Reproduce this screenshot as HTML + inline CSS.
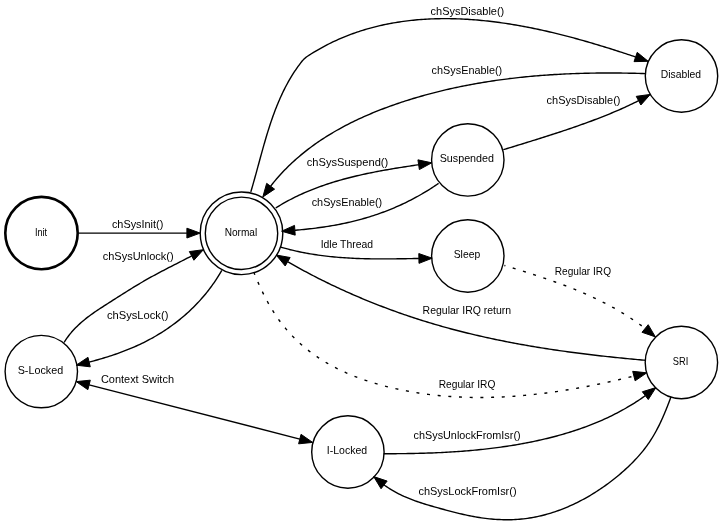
<!DOCTYPE html>
<html><head><meta charset="utf-8"><style>
html,body{margin:0;padding:0;background:#fff;width:723px;height:526px;overflow:hidden}
svg{display:block;will-change:transform}
text{font-family:"Liberation Sans",sans-serif;font-size:11px;fill:#000}
</style></head><body>
<svg width="723" height="526" viewBox="0 0 723 526">
<rect width="723" height="526" fill="#fff"/>
<circle cx="41.5" cy="233.1" r="36.2" fill="none" stroke="#000" stroke-width="2.6"/>
<circle cx="241.5" cy="233.3" r="36.2" fill="none" stroke="#000" stroke-width="1.4"/>
<circle cx="241.5" cy="233.3" r="41.3" fill="none" stroke="#000" stroke-width="1.4"/>
<circle cx="41.3" cy="371.6" r="36.2" fill="none" stroke="#000" stroke-width="1.4"/>
<circle cx="347.9" cy="452" r="36.2" fill="none" stroke="#000" stroke-width="1.4"/>
<circle cx="467.8" cy="159.9" r="36.2" fill="none" stroke="#000" stroke-width="1.4"/>
<circle cx="467.8" cy="256" r="36.2" fill="none" stroke="#000" stroke-width="1.4"/>
<circle cx="681.5" cy="76" r="36.2" fill="none" stroke="#000" stroke-width="1.4"/>
<circle cx="681.4" cy="362.5" r="36.2" fill="none" stroke="#000" stroke-width="1.4"/>
<path d="M78.50,233.10 L186.90,233.10" fill="none" stroke="#000" stroke-width="1.4" stroke-linejoin="round"/>
<polygon points="200.20,233.10 186.90,238.00 186.90,228.20" fill="#000" stroke="#000" stroke-width="1" stroke-linejoin="miter"/>
<path d="M64.10,342.50 L65.23,340.69 L66.39,338.93 L67.60,337.21 L68.84,335.54 L70.12,333.92 L71.43,332.33 L72.77,330.79 L74.15,329.28 L75.55,327.81 L76.99,326.38 L78.45,324.98 L79.94,323.61 L81.45,322.27 L82.98,320.96 L84.54,319.67 L86.12,318.41 L87.71,317.17 L89.32,315.96 L90.95,314.76 L92.60,313.58 L94.26,312.42 L95.93,311.27 L97.61,310.14 L99.30,309.01 L101.00,307.90 L102.70,306.79 L104.41,305.69 L106.12,304.59 L107.84,303.50 L109.56,302.40 L111.27,301.31 L112.99,300.21 L114.71,299.12 L116.42,298.02 L118.14,296.93 L119.86,295.83 L121.58,294.74 L123.30,293.65 L125.02,292.57 L126.74,291.49 L128.47,290.41 L130.20,289.33 L131.93,288.27 L133.66,287.20 L135.40,286.15 L137.14,285.10 L138.88,284.05 L140.63,283.02 L142.38,281.99 L144.14,280.97 L145.90,279.96 L147.66,278.96 L149.43,277.96 L151.20,276.97 L152.98,275.99 L154.76,275.02 L156.54,274.06 L158.33,273.10 L160.13,272.14 L161.92,271.20 L163.72,270.26 L165.52,269.33 L167.33,268.40 L169.13,267.47 L170.94,266.55 L172.75,265.62 L174.56,264.70 L176.37,263.78 L178.17,262.85 L179.98,261.93 L181.79,261.00 L183.60,260.07 L185.40,259.14 L187.21,258.21 L189.01,257.28 L190.82,256.34 L191.64,255.91" fill="none" stroke="#000" stroke-width="1.4" stroke-linejoin="round"/>
<polygon points="203.40,249.70 193.93,260.24 189.35,251.58" fill="#000" stroke="#000" stroke-width="1" stroke-linejoin="miter"/>
<path d="M221.80,270.40 L220.77,272.18 L219.72,273.95 L218.64,275.70 L217.55,277.43 L216.44,279.15 L215.30,280.86 L214.15,282.55 L212.98,284.22 L211.79,285.88 L210.58,287.53 L209.35,289.15 L208.11,290.76 L206.84,292.36 L205.56,293.94 L204.26,295.50 L202.94,297.05 L201.60,298.58 L200.25,300.10 L198.88,301.60 L197.50,303.08 L196.09,304.55 L194.67,306.00 L193.24,307.44 L191.78,308.85 L190.32,310.26 L188.83,311.64 L187.34,313.01 L185.82,314.36 L184.29,315.69 L182.75,317.01 L181.19,318.31 L179.62,319.60 L178.04,320.86 L176.44,322.11 L174.82,323.34 L173.20,324.56 L171.56,325.76 L169.90,326.94 L168.24,328.10 L166.56,329.24 L164.87,330.37 L163.17,331.48 L161.45,332.57 L159.72,333.65 L157.99,334.70 L156.24,335.74 L154.48,336.76 L152.70,337.77 L150.92,338.75 L149.13,339.72 L147.33,340.66 L145.51,341.59 L143.69,342.51 L141.86,343.40 L140.02,344.28 L138.17,345.14 L136.31,345.99 L134.44,346.81 L132.57,347.62 L130.69,348.42 L128.80,349.20 L126.91,349.97 L125.00,350.72 L123.09,351.45 L121.18,352.17 L119.26,352.87 L117.34,353.57 L115.40,354.24 L113.47,354.91 L111.53,355.55 L109.59,356.19 L107.64,356.81 L105.69,357.42 L103.73,358.02 L101.78,358.61 L99.82,359.18 L97.85,359.74 L95.89,360.29 L93.92,360.83 L91.95,361.36 L89.99,361.87 L89.13,362.08" fill="none" stroke="#000" stroke-width="1.4" stroke-linejoin="round"/>
<polygon points="76.20,365.20 87.98,357.32 90.28,366.84" fill="#000" stroke="#000" stroke-width="1" stroke-linejoin="miter"/>
<path d="M250.80,191.90 L251.38,189.97 L251.95,188.03 L252.51,186.08 L253.07,184.13 L253.63,182.18 L254.18,180.23 L254.73,178.27 L255.27,176.30 L255.82,174.34 L256.36,172.37 L256.90,170.39 L257.44,168.42 L257.97,166.44 L258.51,164.47 L259.05,162.49 L259.59,160.51 L260.13,158.53 L260.67,156.55 L261.21,154.56 L261.76,152.58 L262.31,150.60 L262.86,148.62 L263.42,146.64 L263.98,144.66 L264.55,142.69 L265.12,140.71 L265.70,138.74 L266.28,136.77 L266.87,134.80 L267.47,132.84 L268.08,130.87 L268.70,128.92 L269.32,126.96 L269.96,125.01 L270.60,123.07 L271.26,121.12 L271.92,119.19 L272.60,117.26 L273.29,115.33 L273.99,113.41 L274.70,111.50 L275.43,109.59 L276.17,107.69 L276.92,105.79 L277.69,103.91 L278.48,102.03 L279.28,100.15 L280.09,98.29 L280.93,96.44 L281.78,94.59 L282.64,92.75 L283.53,90.92 L284.43,89.10 L285.35,87.29 L286.30,85.49 L287.26,83.71 L288.24,81.93 L289.24,80.16 L290.27,78.40 L291.31,76.66 L292.38,74.92 L293.47,73.20 L294.59,71.49 L295.73,69.80 L296.89,68.11 L298.08,66.44 L299.29,64.79 L300.53,63.14 L301.79,61.51 L302.38,60.81 L302.99,60.13 L303.63,59.47 L304.28,58.84 L304.95,58.22 L305.65,57.63 L306.37,57.06 L307.11,56.51 L307.87,55.99 L309.61,54.86 L311.36,53.76 L313.12,52.67 L314.88,51.60 L316.65,50.55 L318.42,49.53 L320.20,48.52 L321.99,47.53 L323.78,46.56 L325.58,45.60 L327.38,44.67 L329.19,43.75 L331.01,42.86 L332.83,41.98 L334.66,41.12 L336.49,40.28 L338.33,39.45 L340.17,38.65 L342.01,37.86 L343.87,37.09 L345.72,36.34 L347.59,35.60 L349.45,34.88 L351.33,34.18 L353.20,33.50 L355.08,32.83 L356.97,32.18 L358.86,31.55 L360.75,30.93 L362.65,30.33 L364.55,29.75 L366.46,29.18 L368.37,28.63 L370.29,28.10 L372.21,27.58 L374.13,27.08 L376.06,26.59 L377.99,26.12 L379.92,25.67 L381.86,25.23 L383.80,24.80 L385.75,24.39 L387.69,24.00 L389.64,23.62 L391.60,23.25 L393.56,22.90 L395.52,22.57 L397.48,22.25 L399.45,21.94 L401.41,21.65 L403.39,21.37 L405.36,21.11 L407.34,20.86 L409.32,20.62 L411.30,20.40 L413.28,20.19 L415.27,20.00 L417.26,19.82 L419.25,19.65 L421.24,19.50 L423.23,19.35 L425.23,19.23 L427.23,19.11 L429.23,19.01 L431.23,18.92 L433.23,18.84 L435.24,18.77 L437.25,18.72 L439.25,18.68 L441.26,18.65 L443.27,18.63 L445.28,18.63 L447.30,18.63 L449.31,18.65 L451.32,18.68 L453.34,18.72 L455.35,18.77 L457.37,18.84 L459.39,18.91 L461.40,19.00 L463.42,19.09 L465.44,19.20 L467.46,19.32 L469.48,19.45 L471.50,19.59 L473.52,19.73 L475.54,19.89 L477.55,20.06 L479.57,20.24 L481.59,20.43 L483.61,20.63 L485.63,20.84 L487.65,21.05 L489.67,21.28 L491.69,21.52 L493.70,21.76 L495.72,22.02 L497.74,22.28 L499.75,22.56 L501.77,22.84 L503.78,23.13 L505.80,23.43 L507.81,23.73 L509.83,24.05 L511.84,24.37 L513.85,24.70 L515.86,25.05 L517.87,25.39 L519.88,25.75 L521.89,26.11 L523.90,26.48 L525.90,26.86 L527.91,27.25 L529.91,27.64 L531.91,28.04 L533.91,28.45 L535.91,28.87 L537.91,29.29 L539.91,29.72 L541.91,30.15 L543.90,30.59 L545.89,31.04 L547.89,31.50 L549.88,31.96 L551.86,32.43 L553.85,32.90 L555.84,33.38 L557.82,33.86 L559.80,34.35 L561.78,34.85 L563.76,35.35 L565.73,35.86 L567.71,36.37 L569.68,36.89 L571.65,37.41 L573.61,37.94 L575.58,38.47 L577.54,39.01 L579.50,39.55 L581.46,40.10 L583.42,40.65 L585.37,41.21 L587.32,41.77 L589.27,42.33 L591.22,42.90 L593.16,43.47 L595.10,44.05 L597.04,44.63 L598.97,45.21 L600.91,45.80 L602.84,46.39 L604.76,46.98 L606.69,47.58 L608.61,48.18 L610.53,48.78 L612.44,49.38 L614.35,49.99 L616.26,50.60 L618.17,51.22 L620.07,51.83 L621.97,52.45 L623.87,53.07 L625.76,53.70 L627.65,54.32 L629.54,54.95 L631.42,55.58 L633.30,56.21 L635.17,56.84 L635.62,56.99" fill="none" stroke="#000" stroke-width="1.4" stroke-linejoin="round"/>
<polygon points="648.20,61.30 634.03,61.63 637.20,52.36" fill="#000" stroke="#000" stroke-width="1" stroke-linejoin="miter"/>
<path d="M645.00,73.60 L643.00,73.54 L641.00,73.47 L638.99,73.42 L636.99,73.36 L634.98,73.31 L632.98,73.26 L630.97,73.22 L628.96,73.18 L626.95,73.14 L624.94,73.11 L622.94,73.08 L620.92,73.06 L618.91,73.03 L616.90,73.02 L614.89,73.00 L612.88,72.99 L610.86,72.99 L608.85,72.98 L606.83,72.98 L604.82,72.99 L602.80,73.00 L600.79,73.01 L598.77,73.03 L596.75,73.05 L594.73,73.08 L592.72,73.11 L590.70,73.15 L588.68,73.19 L586.66,73.23 L584.64,73.28 L582.63,73.33 L580.61,73.39 L578.59,73.45 L576.57,73.52 L574.55,73.59 L572.53,73.67 L570.51,73.75 L568.49,73.83 L566.47,73.92 L564.45,74.02 L562.43,74.12 L560.41,74.22 L558.39,74.33 L556.38,74.45 L554.36,74.57 L552.34,74.69 L550.32,74.82 L548.30,74.96 L546.29,75.10 L544.27,75.25 L542.25,75.40 L540.23,75.55 L538.22,75.72 L536.20,75.88 L534.19,76.06 L532.17,76.23 L530.16,76.42 L528.14,76.61 L526.13,76.80 L524.12,77.00 L522.11,77.21 L520.10,77.42 L518.09,77.64 L516.08,77.87 L514.07,78.09 L512.06,78.33 L510.05,78.57 L508.04,78.82 L506.04,79.07 L504.03,79.33 L502.03,79.60 L500.03,79.87 L498.02,80.15 L496.02,80.43 L494.02,80.72 L492.02,81.02 L490.02,81.33 L488.03,81.63 L486.03,81.95 L484.04,82.27 L482.04,82.60 L480.05,82.94 L478.06,83.28 L476.07,83.63 L474.08,83.99 L472.09,84.35 L470.11,84.72 L468.12,85.09 L466.14,85.48 L464.16,85.87 L462.17,86.26 L460.20,86.67 L458.22,87.08 L456.24,87.49 L454.27,87.92 L452.29,88.35 L450.32,88.79 L448.35,89.23 L446.38,89.69 L444.42,90.15 L442.45,90.62 L440.49,91.09 L438.53,91.57 L436.57,92.06 L434.61,92.56 L432.66,93.07 L430.70,93.58 L428.75,94.10 L426.80,94.63 L424.85,95.16 L422.90,95.71 L420.96,96.26 L419.02,96.82 L417.08,97.38 L415.14,97.96 L413.20,98.54 L411.27,99.13 L409.34,99.73 L407.41,100.34 L405.48,100.95 L403.56,101.57 L401.63,102.21 L399.71,102.84 L397.79,103.49 L395.88,104.15 L393.97,104.81 L392.06,105.49 L390.15,106.17 L388.25,106.86 L386.35,107.56 L384.45,108.27 L382.56,108.99 L380.67,109.71 L378.79,110.45 L376.91,111.20 L375.04,111.95 L373.17,112.72 L371.30,113.50 L369.44,114.28 L367.58,115.08 L365.73,115.89 L363.89,116.70 L362.05,117.53 L360.21,118.37 L358.38,119.21 L356.56,120.07 L354.75,120.94 L352.94,121.82 L351.13,122.72 L349.33,123.62 L347.54,124.53 L345.76,125.46 L343.98,126.39 L342.21,127.34 L340.45,128.30 L338.70,129.28 L336.95,130.26 L335.21,131.25 L333.48,132.26 L331.76,133.28 L330.04,134.32 L328.34,135.36 L326.64,136.42 L324.95,137.49 L323.27,138.57 L321.60,139.67 L319.94,140.78 L318.29,141.90 L316.64,143.03 L315.01,144.18 L313.39,145.34 L311.77,146.52 L310.17,147.71 L308.58,148.91 L307.00,150.13 L305.42,151.36 L303.86,152.60 L302.31,153.86 L300.77,155.13 L299.25,156.42 L297.73,157.72 L296.22,159.04 L294.73,160.37 L293.25,161.72 L291.78,163.08 L290.32,164.45 L288.88,165.84 L287.45,167.25 L286.03,168.67 L284.62,170.11 L283.22,171.56 L281.84,173.03 L280.48,174.51 L279.12,176.01 L277.78,177.53 L276.45,179.06 L275.14,180.61 L273.84,182.17 L272.55,183.75 L271.28,185.35 L270.63,186.25" fill="none" stroke="#000" stroke-width="1.4" stroke-linejoin="round"/>
<polygon points="262.80,197.00 266.67,183.36 274.59,189.13" fill="#000" stroke="#000" stroke-width="1" stroke-linejoin="miter"/>
<path d="M275.70,208.00 L277.45,206.90 L279.22,205.82 L280.99,204.76 L282.77,203.72 L284.56,202.70 L286.35,201.70 L288.16,200.71 L289.97,199.75 L291.79,198.81 L293.61,197.88 L295.45,196.97 L297.29,196.08 L299.13,195.20 L300.99,194.34 L302.85,193.50 L304.72,192.68 L306.59,191.87 L308.47,191.08 L310.36,190.30 L312.25,189.54 L314.15,188.80 L316.05,188.07 L317.96,187.35 L319.87,186.65 L321.80,185.97 L323.72,185.30 L325.65,184.64 L327.59,183.99 L329.53,183.36 L331.47,182.74 L333.42,182.14 L335.38,181.54 L337.34,180.96 L339.30,180.40 L341.26,179.84 L343.24,179.29 L345.21,178.76 L347.19,178.24 L349.17,177.72 L351.15,177.22 L353.14,176.73 L355.13,176.25 L357.13,175.78 L359.13,175.31 L361.13,174.86 L363.13,174.41 L365.13,173.98 L367.14,173.55 L369.15,173.13 L371.16,172.72 L373.17,172.32 L375.19,171.92 L377.21,171.53 L379.22,171.15 L381.24,170.77 L383.27,170.41 L385.29,170.04 L387.31,169.69 L389.33,169.33 L391.36,168.99 L393.38,168.65 L395.41,168.31 L397.44,167.98 L399.46,167.65 L401.49,167.33 L403.51,167.01 L405.54,166.69 L407.57,166.38 L409.59,166.07 L411.62,165.77 L413.64,165.46 L415.66,165.16 L417.69,164.86 L418.64,164.72" fill="none" stroke="#000" stroke-width="1.4" stroke-linejoin="round"/>
<polygon points="431.80,162.80 419.35,169.57 417.93,159.87" fill="#000" stroke="#000" stroke-width="1" stroke-linejoin="miter"/>
<path d="M438.60,183.30 L436.92,184.46 L435.23,185.61 L433.54,186.75 L431.83,187.86 L430.12,188.97 L428.40,190.05 L426.67,191.12 L424.93,192.18 L423.18,193.22 L421.43,194.24 L419.66,195.25 L417.89,196.25 L416.12,197.22 L414.33,198.19 L412.54,199.13 L410.74,200.07 L408.93,200.98 L407.12,201.89 L405.30,202.77 L403.47,203.65 L401.64,204.50 L399.80,205.34 L397.95,206.17 L396.10,206.98 L394.24,207.78 L392.37,208.56 L390.50,209.33 L388.62,210.08 L386.74,210.82 L384.85,211.54 L382.95,212.25 L381.05,212.94 L379.14,213.62 L377.23,214.29 L375.31,214.94 L373.39,215.57 L371.46,216.19 L369.53,216.80 L367.60,217.39 L365.65,217.96 L363.71,218.53 L361.76,219.07 L359.80,219.61 L357.84,220.13 L355.88,220.63 L353.91,221.12 L351.94,221.60 L349.97,222.07 L347.99,222.52 L346.00,222.95 L344.02,223.38 L342.03,223.79 L340.04,224.19 L338.05,224.58 L336.05,224.95 L334.05,225.32 L332.05,225.67 L330.04,226.01 L328.04,226.34 L326.03,226.65 L324.02,226.96 L322.00,227.25 L319.99,227.54 L317.97,227.81 L315.96,228.08 L313.94,228.33 L311.92,228.58 L309.90,228.81 L307.88,229.04 L305.86,229.25 L303.84,229.46 L301.81,229.66 L299.79,229.85 L297.77,230.03 L295.75,230.20 L294.87,230.27" fill="none" stroke="#000" stroke-width="1.4" stroke-linejoin="round"/>
<polygon points="281.60,231.20 294.52,225.38 295.21,235.15" fill="#000" stroke="#000" stroke-width="1" stroke-linejoin="miter"/>
<path d="M503.30,149.70 L505.25,149.10 L507.20,148.50 L509.15,147.91 L511.10,147.31 L513.05,146.71 L515.00,146.11 L516.95,145.51 L518.90,144.91 L520.85,144.31 L522.81,143.71 L524.76,143.11 L526.71,142.51 L528.67,141.91 L530.62,141.30 L532.57,140.70 L534.53,140.09 L536.48,139.48 L538.43,138.87 L540.38,138.26 L542.34,137.64 L544.29,137.03 L546.24,136.41 L548.19,135.79 L550.14,135.16 L552.09,134.53 L554.03,133.90 L555.98,133.27 L557.93,132.64 L559.87,132.00 L561.82,131.35 L563.76,130.71 L565.70,130.06 L567.64,129.40 L569.58,128.75 L571.51,128.09 L573.45,127.42 L575.38,126.75 L577.31,126.07 L579.24,125.40 L581.17,124.71 L583.10,124.02 L585.02,123.33 L586.94,122.63 L588.86,121.93 L590.78,121.22 L592.69,120.50 L594.61,119.78 L596.52,119.05 L598.43,118.32 L600.33,117.58 L602.23,116.84 L604.13,116.09 L606.03,115.33 L607.92,114.56 L609.81,113.79 L611.70,113.01 L613.58,112.22 L615.46,111.43 L617.34,110.62 L619.21,109.81 L621.08,108.99 L622.94,108.16 L624.80,107.32 L626.66,106.46 L628.51,105.60 L630.35,104.73 L632.19,103.85 L634.03,102.96 L635.86,102.06 L637.68,101.14 L638.57,100.67" fill="none" stroke="#000" stroke-width="1.4" stroke-linejoin="round"/>
<polygon points="650.30,94.40 640.88,104.99 636.26,96.35" fill="#000" stroke="#000" stroke-width="1" stroke-linejoin="miter"/>
<path d="M280.40,247.00 L282.37,247.57 L284.34,248.13 L286.32,248.67 L288.30,249.19 L290.28,249.70 L292.26,250.18 L294.25,250.65 L296.23,251.11 L298.22,251.55 L300.22,251.97 L302.21,252.37 L304.21,252.77 L306.21,253.14 L308.21,253.50 L310.22,253.85 L312.22,254.18 L314.23,254.50 L316.24,254.81 L318.25,255.10 L320.27,255.38 L322.28,255.64 L324.30,255.89 L326.32,256.13 L328.34,256.36 L330.36,256.58 L332.39,256.78 L334.41,256.98 L336.44,257.16 L338.47,257.33 L340.49,257.49 L342.52,257.64 L344.56,257.78 L346.59,257.91 L348.62,258.04 L350.66,258.15 L352.69,258.25 L354.73,258.35 L356.77,258.43 L358.80,258.51 L360.84,258.58 L362.88,258.65 L364.92,258.70 L366.96,258.75 L369.00,258.79 L371.04,258.83 L373.08,258.86 L375.13,258.88 L377.17,258.90 L379.21,258.91 L381.25,258.92 L383.30,258.92 L385.34,258.92 L387.38,258.91 L389.42,258.90 L391.47,258.88 L393.51,258.87 L395.55,258.84 L397.59,258.82 L399.63,258.79 L401.67,258.76 L403.72,258.73 L405.75,258.70 L407.79,258.66 L409.83,258.62 L411.87,258.59 L413.91,258.55 L415.94,258.51 L417.98,258.47 L418.90,258.45" fill="none" stroke="#000" stroke-width="1.4" stroke-linejoin="round"/>
<polygon points="432.20,258.20 418.99,263.35 418.81,253.55" fill="#000" stroke="#000" stroke-width="1" stroke-linejoin="miter"/>
<path d="M504.40,265.50 L506.33,266.08 L508.26,266.67 L510.19,267.25 L512.12,267.84 L514.05,268.43 L515.98,269.02 L517.92,269.62 L519.85,270.22 L521.78,270.82 L523.72,271.43 L525.65,272.04 L527.59,272.65 L529.52,273.26 L531.45,273.89 L533.39,274.51 L535.32,275.14 L537.25,275.77 L539.18,276.41 L541.11,277.06 L543.04,277.70 L544.96,278.36 L546.89,279.02 L548.81,279.68 L550.73,280.35 L552.65,281.03 L554.57,281.72 L556.48,282.41 L558.40,283.10 L560.30,283.81 L562.21,284.52 L564.12,285.23 L566.02,285.96 L567.91,286.69 L569.81,287.43 L571.70,288.18 L573.58,288.93 L575.47,289.70 L577.35,290.47 L579.22,291.25 L581.09,292.04 L582.96,292.84 L584.82,293.65 L586.68,294.47 L588.53,295.29 L590.38,296.13 L592.22,296.98 L594.06,297.83 L595.89,298.70 L597.71,299.58 L599.53,300.46 L601.35,301.36 L603.15,302.27 L604.96,303.19 L606.75,304.13 L608.54,305.07 L610.32,306.02 L612.10,306.99 L613.87,307.97 L615.63,308.96 L617.38,309.97 L619.13,310.98 L620.87,312.01 L622.60,313.05 L624.33,314.11 L626.04,315.18 L627.75,316.26 L629.45,317.36 L631.14,318.47 L632.82,319.59 L634.50,320.73 L636.16,321.88 L637.82,323.05 L639.47,324.23 L641.10,325.43 L642.73,326.64 L644.35,327.86 L645.10,328.48" fill="none" stroke="#000" stroke-width="1.4" stroke-linejoin="round" stroke-dasharray="3,7.7" stroke-dashoffset="2"/>
<polygon points="655.40,336.90 642.00,332.27 648.21,324.69" fill="#000" stroke="#000" stroke-width="1" stroke-linejoin="miter"/>
<path d="M645.60,360.30 L643.59,360.12 L641.59,359.95 L639.58,359.76 L637.58,359.58 L635.57,359.40 L633.56,359.21 L631.56,359.02 L629.55,358.83 L627.54,358.64 L625.53,358.45 L623.53,358.25 L621.52,358.05 L619.51,357.85 L617.50,357.64 L615.49,357.44 L613.48,357.23 L611.48,357.02 L609.47,356.80 L607.46,356.59 L605.45,356.37 L603.44,356.15 L601.43,355.93 L599.43,355.70 L597.42,355.47 L595.41,355.24 L593.40,355.00 L591.39,354.77 L589.39,354.53 L587.38,354.28 L585.37,354.04 L583.36,353.79 L581.36,353.54 L579.35,353.28 L577.34,353.03 L575.34,352.77 L573.33,352.50 L571.33,352.24 L569.32,351.97 L567.32,351.69 L565.31,351.42 L563.31,351.14 L561.31,350.85 L559.30,350.57 L557.30,350.28 L555.30,349.98 L553.30,349.69 L551.30,349.39 L549.30,349.08 L547.30,348.78 L545.30,348.47 L543.30,348.15 L541.30,347.84 L539.31,347.51 L537.31,347.19 L535.31,346.86 L533.32,346.53 L531.32,346.19 L529.33,345.85 L527.34,345.51 L525.34,345.16 L523.35,344.81 L521.36,344.45 L519.37,344.09 L517.38,343.73 L515.40,343.36 L513.41,342.99 L511.42,342.61 L509.44,342.23 L507.45,341.85 L505.47,341.46 L503.49,341.06 L501.51,340.67 L499.53,340.26 L497.55,339.86 L495.57,339.45 L493.59,339.03 L491.62,338.61 L489.64,338.19 L487.67,337.76 L485.70,337.32 L483.73,336.89 L481.76,336.44 L479.79,336.00 L477.82,335.54 L475.85,335.09 L473.89,334.63 L471.92,334.16 L469.96,333.69 L468.00,333.21 L466.04,332.73 L464.08,332.24 L462.13,331.75 L460.17,331.25 L458.22,330.75 L456.26,330.25 L454.31,329.73 L452.36,329.22 L450.42,328.70 L448.47,328.17 L446.52,327.63 L444.58,327.10 L442.64,326.55 L440.70,326.00 L438.76,325.45 L436.82,324.89 L434.89,324.32 L432.95,323.75 L431.02,323.18 L429.09,322.60 L427.16,322.01 L425.24,321.42 L423.31,320.82 L421.39,320.22 L419.47,319.61 L417.55,318.99 L415.63,318.37 L413.71,317.75 L411.80,317.12 L409.89,316.48 L407.98,315.84 L406.07,315.19 L404.16,314.54 L402.26,313.88 L400.35,313.22 L398.45,312.55 L396.55,311.87 L394.66,311.19 L392.76,310.51 L390.87,309.81 L388.98,309.12 L387.09,308.41 L385.20,307.71 L383.31,306.99 L381.43,306.27 L379.55,305.55 L377.67,304.82 L375.79,304.08 L373.92,303.34 L372.05,302.60 L370.18,301.84 L368.31,301.09 L366.44,300.32 L364.58,299.55 L362.72,298.78 L360.86,298.00 L359.00,297.21 L357.14,296.42 L355.29,295.62 L353.44,294.82 L351.59,294.01 L349.75,293.20 L347.90,292.38 L346.06,291.56 L344.22,290.73 L342.38,289.89 L340.55,289.05 L338.72,288.20 L336.89,287.35 L335.06,286.49 L333.24,285.63 L331.41,284.76 L329.59,283.88 L327.78,283.00 L325.96,282.12 L324.15,281.22 L322.34,280.33 L320.53,279.42 L318.73,278.51 L316.92,277.60 L315.12,276.68 L313.33,275.75 L311.53,274.82 L309.74,273.88 L307.95,272.94 L306.16,271.99 L304.38,271.04 L302.60,270.08 L300.82,269.11 L299.04,268.14 L297.27,267.16 L295.50,266.18 L293.73,265.19 L291.96,264.20 L290.20,263.20 L288.44,262.20 L287.67,261.74" fill="none" stroke="#000" stroke-width="1.4" stroke-linejoin="round"/>
<polygon points="276.20,255.00 290.15,257.52 285.18,265.96" fill="#000" stroke="#000" stroke-width="1" stroke-linejoin="miter"/>
<path d="M254.10,272.90 L254.85,274.75 L255.61,276.60 L256.38,278.44 L257.16,280.28 L257.96,282.13 L258.77,283.96 L259.59,285.80 L260.43,287.63 L261.28,289.45 L262.15,291.27 L263.03,293.09 L263.92,294.89 L264.84,296.69 L265.77,298.48 L266.71,300.26 L267.67,302.04 L268.65,303.80 L269.65,305.55 L270.67,307.29 L271.70,309.02 L272.76,310.74 L273.83,312.44 L274.93,314.14 L276.04,315.81 L277.18,317.47 L278.34,319.12 L279.52,320.75 L280.72,322.36 L281.94,323.96 L283.19,325.54 L284.45,327.10 L285.74,328.65 L287.05,330.18 L288.37,331.69 L289.72,333.18 L291.09,334.65 L292.47,336.11 L293.88,337.54 L295.30,338.96 L296.74,340.36 L298.20,341.74 L299.68,343.09 L301.17,344.43 L302.68,345.75 L304.20,347.05 L305.75,348.33 L307.30,349.59 L308.87,350.83 L310.46,352.04 L312.06,353.24 L313.68,354.41 L315.31,355.57 L316.95,356.70 L318.61,357.81 L320.28,358.91 L321.96,359.98 L323.66,361.03 L325.36,362.07 L327.08,363.08 L328.81,364.08 L330.56,365.06 L332.31,366.02 L334.08,366.96 L335.85,367.88 L337.64,368.78 L339.43,369.67 L341.24,370.54 L343.05,371.39 L344.88,372.22 L346.71,373.04 L348.55,373.84 L350.40,374.62 L352.26,375.39 L354.13,376.14 L356.00,376.87 L357.88,377.59 L359.77,378.29 L361.67,378.98 L363.57,379.65 L365.48,380.31 L367.39,380.95 L369.31,381.57 L371.24,382.19 L373.17,382.78 L375.10,383.37 L377.04,383.94 L378.98,384.49 L380.93,385.03 L382.88,385.56 L384.83,386.08 L386.79,386.58 L388.75,387.07 L390.72,387.54 L392.68,388.01 L394.65,388.46 L396.62,388.90 L398.59,389.32 L400.56,389.74 L402.53,390.14 L404.51,390.54 L406.48,390.92 L408.46,391.29 L410.44,391.64 L412.42,391.99 L414.40,392.33 L416.38,392.65 L418.37,392.96 L420.35,393.26 L422.34,393.55 L424.32,393.83 L426.31,394.10 L428.30,394.36 L430.29,394.61 L432.28,394.84 L434.27,395.07 L436.26,395.28 L438.26,395.49 L440.25,395.68 L442.25,395.87 L444.24,396.04 L446.24,396.20 L448.24,396.36 L450.23,396.50 L452.23,396.63 L454.23,396.76 L456.23,396.87 L458.23,396.97 L460.23,397.07 L462.23,397.15 L464.24,397.23 L466.24,397.29 L468.24,397.35 L470.25,397.40 L472.25,397.43 L474.25,397.46 L476.26,397.48 L478.26,397.49 L480.27,397.49 L482.27,397.49 L484.28,397.47 L486.28,397.44 L488.29,397.41 L490.30,397.37 L492.30,397.32 L494.31,397.26 L496.31,397.19 L498.32,397.11 L500.33,397.03 L502.33,396.94 L504.34,396.83 L506.35,396.73 L508.35,396.61 L510.36,396.48 L512.36,396.35 L514.37,396.21 L516.37,396.06 L518.38,395.91 L520.38,395.74 L522.39,395.57 L524.39,395.39 L526.40,395.21 L528.40,395.01 L530.40,394.81 L532.41,394.61 L534.41,394.39 L536.41,394.17 L538.41,393.94 L540.41,393.71 L542.41,393.47 L544.41,393.22 L546.41,392.96 L548.40,392.70 L550.40,392.43 L552.40,392.16 L554.39,391.88 L556.39,391.59 L558.38,391.29 L560.38,390.99 L562.37,390.69 L564.36,390.38 L566.35,390.06 L568.34,389.74 L570.33,389.41 L572.31,389.07 L574.30,388.73 L576.29,388.38 L578.27,388.03 L580.25,387.67 L582.24,387.31 L584.22,386.94 L586.20,386.57 L588.17,386.19 L590.15,385.81 L592.13,385.42 L594.10,385.03 L596.07,384.63 L598.04,384.23 L600.01,383.82 L601.98,383.41 L603.95,382.99 L605.92,382.57 L607.88,382.14 L609.84,381.71 L611.80,381.28 L613.76,380.84 L615.72,380.39 L617.68,379.95 L619.63,379.50 L621.58,379.04 L623.54,378.58 L625.48,378.12 L627.43,377.65 L629.38,377.18 L631.32,376.71 L633.26,376.23 L633.91,376.07" fill="none" stroke="#000" stroke-width="1.4" stroke-linejoin="round" stroke-dasharray="3,7.7" stroke-dashoffset="0.9"/>
<polygon points="646.80,372.80 635.11,380.82 632.70,371.32" fill="#000" stroke="#000" stroke-width="1" stroke-linejoin="miter"/>
<path d="M89.08,384.91 L299.82,439.09" fill="none" stroke="#000" stroke-width="1.4" stroke-linejoin="round"/>
<polygon points="312.70,442.40 298.60,443.83 301.04,434.34" fill="#000" stroke="#000" stroke-width="1" stroke-linejoin="miter"/>
<polygon points="76.20,381.60 90.30,380.17 87.86,389.66" fill="#000" stroke="#000" stroke-width="1" stroke-linejoin="miter"/>
<path d="M383.70,453.70 L385.70,453.70 L387.70,453.71 L389.71,453.70 L391.71,453.70 L393.72,453.69 L395.73,453.68 L397.74,453.67 L399.75,453.66 L401.76,453.64 L403.78,453.62 L405.80,453.59 L407.81,453.56 L409.83,453.53 L411.85,453.50 L413.87,453.46 L415.90,453.41 L417.92,453.37 L419.94,453.32 L421.97,453.26 L423.99,453.20 L426.02,453.14 L428.05,453.07 L430.08,453.00 L432.11,452.93 L434.13,452.84 L436.16,452.76 L438.19,452.67 L440.23,452.58 L442.26,452.48 L444.29,452.37 L446.32,452.26 L448.35,452.15 L450.38,452.03 L452.42,451.90 L454.45,451.77 L456.48,451.64 L458.51,451.50 L460.54,451.35 L462.57,451.20 L464.61,451.04 L466.64,450.87 L468.67,450.70 L470.70,450.53 L472.73,450.35 L474.76,450.16 L476.78,449.96 L478.81,449.76 L480.84,449.55 L482.86,449.34 L484.89,449.12 L486.91,448.89 L488.94,448.65 L490.96,448.41 L492.98,448.16 L495.00,447.91 L497.02,447.64 L499.04,447.37 L501.06,447.09 L503.07,446.81 L505.09,446.52 L507.10,446.22 L509.11,445.91 L511.12,445.59 L513.13,445.27 L515.13,444.94 L517.14,444.60 L519.14,444.25 L521.14,443.89 L523.14,443.53 L525.14,443.16 L527.13,442.77 L529.13,442.38 L531.12,441.99 L533.10,441.58 L535.09,441.16 L537.08,440.74 L539.06,440.30 L541.04,439.86 L543.01,439.41 L544.99,438.94 L546.96,438.47 L548.93,437.99 L550.89,437.50 L552.85,437.00 L554.81,436.49 L556.77,435.96 L558.72,435.43 L560.67,434.89 L562.61,434.34 L564.55,433.77 L566.49,433.20 L568.42,432.61 L570.35,432.01 L572.27,431.41 L574.19,430.79 L576.11,430.15 L578.02,429.51 L579.93,428.86 L581.83,428.19 L583.72,427.51 L585.61,426.82 L587.50,426.12 L589.38,425.40 L591.26,424.67 L593.13,423.93 L594.99,423.17 L596.85,422.41 L598.70,421.63 L600.55,420.83 L602.39,420.02 L604.23,419.20 L606.06,418.37 L607.88,417.52 L609.70,416.66 L611.51,415.78 L613.31,414.89 L615.11,413.98 L616.89,413.06 L618.68,412.13 L620.45,411.18 L622.22,410.22 L623.98,409.24 L625.73,408.24 L627.48,407.23 L629.22,406.21 L630.95,405.17 L632.67,404.11 L634.39,403.04 L636.09,401.95 L637.79,400.85 L639.48,399.73 L641.16,398.59 L642.84,397.44 L644.50,396.27 L645.31,395.65" fill="none" stroke="#000" stroke-width="1.4" stroke-linejoin="round"/>
<polygon points="655.90,387.60 648.28,399.55 642.35,391.75" fill="#000" stroke="#000" stroke-width="1" stroke-linejoin="miter"/>
<path d="M670.90,397.10 L670.21,398.96 L669.51,400.83 L668.80,402.71 L668.08,404.58 L667.35,406.46 L666.60,408.34 L665.84,410.22 L665.07,412.09 L664.28,413.96 L663.48,415.83 L662.66,417.69 L661.83,419.55 L660.98,421.40 L660.11,423.24 L659.22,425.07 L658.31,426.89 L657.38,428.69 L656.43,430.49 L655.46,432.26 L654.47,434.03 L653.45,435.77 L652.41,437.50 L651.35,439.20 L650.26,440.89 L649.15,442.56 L648.01,444.20 L646.85,445.82 L645.66,447.43 L644.45,449.01 L643.22,450.58 L641.96,452.12 L640.69,453.65 L639.39,455.16 L638.07,456.66 L636.74,458.13 L635.38,459.59 L634.01,461.03 L632.61,462.46 L631.20,463.87 L629.77,465.27 L628.32,466.65 L626.86,468.02 L625.38,469.37 L623.89,470.72 L622.38,472.04 L620.86,473.36 L619.33,474.66 L617.78,475.96 L616.22,477.24 L614.64,478.50 L613.06,479.76 L611.46,481.00 L609.84,482.22 L608.22,483.44 L606.58,484.64 L604.93,485.82 L603.27,486.99 L601.60,488.14 L599.92,489.28 L598.23,490.41 L596.52,491.51 L594.81,492.61 L593.08,493.68 L591.35,494.74 L589.60,495.78 L587.84,496.80 L586.08,497.80 L584.30,498.79 L582.52,499.76 L580.72,500.70 L578.92,501.63 L577.11,502.54 L575.29,503.43 L573.46,504.30 L571.62,505.15 L569.77,505.98 L567.92,506.79 L566.06,507.58 L564.19,508.34 L562.31,509.08 L560.43,509.80 L558.54,510.50 L556.64,511.18 L554.74,511.83 L552.83,512.46 L550.91,513.06 L548.98,513.64 L547.06,514.20 L545.12,514.73 L543.18,515.23 L541.23,515.71 L539.28,516.17 L537.33,516.59 L535.36,517.00 L533.40,517.37 L531.43,517.72 L529.45,518.04 L527.47,518.34 L525.49,518.60 L523.50,518.84 L521.51,519.05 L519.52,519.23 L517.52,519.38 L515.53,519.51 L513.52,519.60 L511.52,519.68 L509.51,519.72 L507.51,519.74 L505.50,519.74 L503.49,519.70 L501.48,519.65 L499.47,519.57 L497.46,519.47 L495.45,519.34 L493.44,519.19 L491.43,519.02 L489.43,518.83 L487.42,518.61 L485.42,518.37 L483.41,518.12 L481.41,517.84 L479.42,517.54 L477.42,517.22 L475.43,516.89 L473.45,516.53 L471.46,516.16 L469.48,515.77 L467.51,515.36 L465.54,514.94 L463.57,514.50 L461.60,514.05 L459.64,513.59 L457.68,513.12 L455.72,512.63 L453.76,512.13 L451.81,511.63 L449.86,511.12 L447.91,510.60 L445.96,510.07 L444.02,509.54 L442.07,509.01 L440.13,508.47 L438.19,507.93 L436.25,507.39 L434.31,506.84 L432.37,506.29 L430.44,505.73 L428.51,505.16 L426.58,504.58 L424.66,503.99 L422.75,503.38 L420.84,502.77 L418.94,502.13 L417.05,501.48 L415.16,500.81 L413.28,500.13 L411.41,499.42 L409.55,498.69 L407.71,497.93 L405.87,497.15 L404.04,496.35 L402.23,495.51 L400.42,494.65 L398.64,493.76 L396.86,492.83 L395.10,491.88 L393.35,490.89 L391.62,489.88 L389.91,488.83 L388.21,487.75 L386.52,486.63 L384.86,485.49 L384.10,484.89" fill="none" stroke="#000" stroke-width="1.4" stroke-linejoin="round"/>
<polygon points="373.70,476.60 387.15,481.06 381.05,488.72" fill="#000" stroke="#000" stroke-width="1" stroke-linejoin="miter"/>
<text x="34.90" y="235.90" textLength="12.20" lengthAdjust="spacingAndGlyphs">Init</text>
<text x="224.70" y="235.80" textLength="32.50" lengthAdjust="spacingAndGlyphs">Normal</text>
<text x="17.70" y="373.60" textLength="45.50" lengthAdjust="spacingAndGlyphs">S-Locked</text>
<text x="326.80" y="453.60" textLength="40.30" lengthAdjust="spacingAndGlyphs">I-Locked</text>
<text x="439.70" y="161.60" textLength="54.30" lengthAdjust="spacingAndGlyphs">Suspended</text>
<text x="453.70" y="257.80" textLength="26.50" lengthAdjust="spacingAndGlyphs">Sleep</text>
<text x="660.70" y="77.90" textLength="40.30" lengthAdjust="spacingAndGlyphs">Disabled</text>
<text x="672.80" y="364.90" textLength="15.50" lengthAdjust="spacingAndGlyphs">SRI</text>
<text x="111.90" y="227.70" textLength="51.40" lengthAdjust="spacingAndGlyphs">chSysInit()</text>
<text x="102.70" y="259.50" textLength="70.90" lengthAdjust="spacingAndGlyphs">chSysUnlock()</text>
<text x="106.90" y="319.00" textLength="61.50" lengthAdjust="spacingAndGlyphs">chSysLock()</text>
<text x="100.90" y="382.90" textLength="73.10" lengthAdjust="spacingAndGlyphs">Context Switch</text>
<text x="430.60" y="15.10" textLength="73.60" lengthAdjust="spacingAndGlyphs">chSysDisable()</text>
<text x="431.60" y="73.60" textLength="70.60" lengthAdjust="spacingAndGlyphs">chSysEnable()</text>
<text x="306.80" y="166.00" textLength="81.40" lengthAdjust="spacingAndGlyphs">chSysSuspend()</text>
<text x="311.70" y="205.90" textLength="70.50" lengthAdjust="spacingAndGlyphs">chSysEnable()</text>
<text x="320.70" y="247.70" textLength="52.30" lengthAdjust="spacingAndGlyphs">Idle Thread</text>
<text x="546.60" y="104.40" textLength="73.90" lengthAdjust="spacingAndGlyphs">chSysDisable()</text>
<text x="554.80" y="274.50" textLength="56.20" lengthAdjust="spacingAndGlyphs">Regular IRQ</text>
<text x="422.60" y="313.70" textLength="88.60" lengthAdjust="spacingAndGlyphs">Regular IRQ return</text>
<text x="438.70" y="387.70" textLength="56.70" lengthAdjust="spacingAndGlyphs">Regular IRQ</text>
<text x="413.60" y="439.00" textLength="107.00" lengthAdjust="spacingAndGlyphs">chSysUnlockFromIsr()</text>
<text x="418.40" y="494.60" textLength="98.20" lengthAdjust="spacingAndGlyphs">chSysLockFromIsr()</text>
</svg>
</body></html>
